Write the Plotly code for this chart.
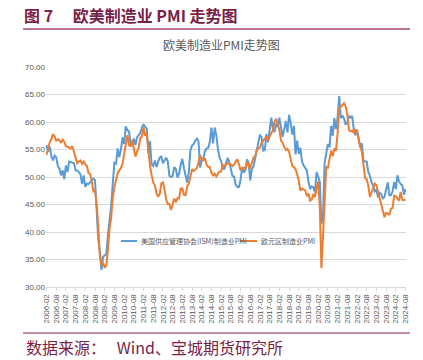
import plotly.graph_objects as go

# Monthly categories 2006-02 .. 2024-08
months = []
for y in range(2006, 2025):
    for m in range(1, 13):
        if (y == 2006 and m < 2) or (y == 2024 and m > 8):
            continue
        months.append(f"{y}-{m:02d}")

tick_labels = [mm for mm in months if mm[-2:] in ("02", "08")]

ism_pmi = [
    # 2006 (Feb-Dec)
    55.8, 54.6, 55.5, 53.8, 53.0, 53.9, 53.6, 52.0, 51.5, 50.3, 51.2,
    # 2007
    49.6, 52.1, 50.9, 52.8, 52.7, 52.7, 52.5, 51.2, 51.2, 50.9, 50.5, 48.7,
    # 2008
    50.3, 48.2, 48.8, 48.7, 49.1, 49.5, 49.7, 49.4, 44.8, 38.7, 36.5, 33.1,
    # 2009
    35.5, 35.7, 36.0, 39.5, 42.0, 44.8, 48.9, 52.6, 52.4, 55.2, 53.6, 54.9,
    # 2010
    57.2, 56.0, 59.2, 58.5, 58.3, 56.0, 55.8, 57.0, 55.8, 57.2, 57.6, 58.0,
    # 2011
    59.0, 59.6, 59.1, 58.8, 54.2, 56.5, 52.3, 52.0, 53.0, 51.8, 52.7, 53.5,
    # 2012
    53.7, 52.5, 53.0, 53.5, 52.8, 50.2, 50.0, 50.2, 51.8, 51.5, 49.9, 50.6,
    # 2013
    52.3, 53.3, 51.6, 50.0, 49.0, 50.9, 54.9, 55.7, 56.0, 56.6, 57.0, 56.5,
    # 2014
    51.7, 53.0, 53.4, 54.7, 55.2, 55.3, 56.4, 59.0, 56.1, 59.0, 57.6, 55.1,
    # 2015
    53.5, 52.9, 51.5, 51.5, 52.8, 53.5, 52.7, 51.1, 50.2, 50.1, 48.6, 48.2,
    # 2016
    48.2, 49.5, 51.8, 50.8, 51.3, 53.2, 52.6, 49.4, 51.5, 51.9, 53.2, 54.7,
    # 2017
    56.0, 57.7, 57.2, 54.8, 54.9, 57.8, 56.3, 58.8, 60.8, 58.7, 58.2, 59.7,
    # 2018
    59.1, 60.8, 59.3, 57.3, 58.7, 60.2, 58.1, 61.3, 59.8, 57.7, 59.3, 54.1,
    # 2019
    56.6, 54.2, 55.3, 52.8, 52.1, 51.7, 51.2, 49.1, 47.8, 48.3, 48.1, 47.2,
    # 2020
    50.9, 50.1, 49.1, 41.5, 43.1, 52.6, 54.2, 56.0, 55.4, 59.3, 57.5, 60.7,
    # 2021
    58.7, 60.8, 64.7, 60.7, 61.2, 60.6, 59.5, 59.9, 61.1, 60.8, 61.1, 58.7,
    # 2022
    57.6, 58.6, 57.1, 55.4, 56.1, 53.0, 52.8, 52.8, 50.9, 50.2, 49.0, 48.4,
    # 2023
    47.4, 47.7, 46.3, 47.1, 46.9, 46.0, 46.4, 47.6, 49.0, 46.7, 46.7, 47.4,
    # 2024 (Jan-Aug)
    49.1, 47.8, 50.3, 49.2, 48.7, 48.5, 46.8, 47.8,
]

ez_pmi = [
    # 2006 (Feb-Dec)
    54.0, 55.5, 56.3, 56.9, 57.8, 57.4, 56.5, 56.9, 56.7, 56.2, 56.8,
    # 2007
    56.4, 55.6, 55.5, 55.4, 55.2, 55.6, 54.7, 53.4, 52.5, 52.8, 53.0, 52.4,
    # 2008
    52.8, 52.3, 52.0, 50.7, 50.6, 49.2, 47.4, 47.6, 45.0, 41.1, 35.6, 33.9,
    # 2009
    34.4, 33.5, 33.9, 36.8, 40.7, 42.6, 46.3, 48.2, 49.3, 50.7, 51.2, 51.6,
    # 2010
    52.4, 54.2, 56.6, 57.6, 55.8, 55.6, 56.7, 55.1, 53.7, 54.6, 55.3, 57.1,
    # 2011
    57.3, 59.0, 57.5, 58.0, 54.6, 52.0, 50.4, 49.0, 48.5, 47.1, 46.4, 46.9,
    # 2012
    48.8, 49.0, 47.7, 45.9, 45.1, 45.1, 44.0, 45.1, 46.1, 45.4, 46.2, 46.1,
    # 2013
    47.9, 47.9, 46.8, 46.7, 48.3, 48.8, 50.3, 51.4, 51.1, 51.3, 51.6, 52.7,
    # 2014
    54.0, 53.2, 53.0, 53.4, 52.2, 51.8, 51.8, 50.7, 50.3, 50.6, 50.1, 50.6,
    # 2015
    51.0, 51.0, 52.2, 52.0, 52.2, 52.5, 52.4, 52.3, 52.0, 52.3, 52.8, 53.2,
    # 2016
    52.3, 51.2, 51.6, 51.7, 51.5, 52.8, 52.0, 51.7, 52.6, 53.5, 53.7, 54.9,
    # 2017
    55.2, 55.4, 56.2, 56.7, 57.0, 57.4, 56.6, 57.4, 58.1, 58.5, 60.1, 60.6,
    # 2018
    59.6, 58.6, 56.6, 56.2, 55.5, 54.9, 55.1, 54.6, 53.2, 52.0, 51.8, 51.4,
    # 2019
    50.5, 49.3, 47.5, 47.9, 47.7, 47.6, 46.5, 47.0, 45.7, 45.9, 46.9, 46.3,
    # 2020
    47.9, 49.2, 44.5, 33.4, 39.4, 47.4, 51.8, 51.7, 53.7, 54.8, 53.8, 55.2,
    # 2021
    54.8, 57.9, 62.5, 62.9, 63.1, 63.4, 62.8, 61.4, 58.6, 58.3, 58.4, 58.0,
    # 2022
    58.7, 58.2, 56.5, 55.5, 54.6, 52.1, 49.8, 49.6, 48.4, 46.4, 47.1, 47.8,
    # 2023
    48.8, 48.5, 47.3, 45.8, 44.8, 43.4, 42.7, 43.5, 43.4, 43.1, 44.2, 44.4,
    # 2024 (Jan-Aug)
    46.6, 46.5, 46.1, 45.7, 47.3, 45.8, 45.8, 45.8,
]

series_names = ["美国供应管理协会(ISM)制造业PMI", "欧元区制造业PMI"]
series_colors = ["#5b9bd5", "#ed7d31"]
y_ticks = [30, 35, 40, 45, 50, 55, 60, 65, 70]

CJK = "Noto Sans CJK SC"
MAROON = "#7a1f47"


def px(x):  # picture x pixel -> paper coords
    return (x - 46) / 360


def py(y):  # picture y pixel -> paper coords
    return (287 - y) / 220


fig = go.Figure()
for name, vals, col in zip(series_names, [ism_pmi, ez_pmi], series_colors):
    fig.add_trace(go.Scatter(x=months, y=vals, mode="lines", name=name,
                             line=dict(color=col, width=2), showlegend=False))

fig.update_layout(
    width=423, height=360,
    margin=dict(l=46, r=17, t=67, b=73, autoexpand=False),
    paper_bgcolor="white", plot_bgcolor="white",
    font=dict(family=CJK, color="#595959"),
    showlegend=False,
    xaxis=dict(type="category", range=[-0.3, len(months) - 0.7],
               tickmode="array", tickvals=tick_labels, ticktext=tick_labels,
               tickangle=-90, tickfont=dict(size=8, color="#595959", family="Liberation Sans"),
               showgrid=False, showline=True, linecolor="#d9d9d9", linewidth=1,
               ticks="outside", ticklen=3, tickcolor="#d9d9d9", automargin=False),
    yaxis=dict(range=[30, 70], tickvals=y_ticks, tickformat=".2f",
               tickfont=dict(size=8, color="#595959", family="Liberation Sans"),
               showgrid=True, gridcolor="#d9d9d9", gridwidth=1, zeroline=False,
               showline=False, ticks="", automargin=False),
)

# Legend drawn inside plot
legend_items = [(121, 137, 139, series_names[0], series_colors[0]),
                (240, 257, 259, series_names[1], series_colors[1])]
for x0, x1, xt, name, col in legend_items:
    fig.add_shape(type="line", xref="paper", yref="paper",
                  x0=px(x0), x1=px(x1), y0=py(241), y1=py(241),
                  line=dict(color=col, width=2))
    fig.add_annotation(text=name, xref="paper", yref="paper", x=px(xt), y=py(241),
                       xanchor="left", yanchor="middle", showarrow=False,
                       font=dict(family=CJK, size=7, color="#595959"))

fig.add_annotation(text="<b>图 7　 欧美制造业 PMI 走势图</b>", xref="paper", yref="paper",
                   x=px(22), y=py(15), xanchor="left", yanchor="middle",
                   showarrow=False, font=dict(family=CJK, size=16, color=MAROON))
fig.add_annotation(text="欧美制造业PMI走势图", xref="paper", yref="paper",
                   x=px(221), y=py(45), xanchor="center", yanchor="middle",
                   showarrow=False, font=dict(family=CJK, size=12, color="#595959"))
fig.add_annotation(text="数据来源：   Wind、宝城期货研究所", xref="paper", yref="paper",
                   x=px(24), y=py(347), xanchor="left", yanchor="middle",
                   showarrow=False, font=dict(family=CJK, size=16, color=MAROON))

fig.add_shape(type="line", xref="paper", yref="paper",
              x0=px(23), x1=px(410), y0=py(29), y1=py(29),
              line=dict(color="#a0466e", width=1.5))
fig.add_shape(type="line", xref="paper", yref="paper",
              x0=px(23), x1=px(410), y0=py(333), y1=py(333),
              line=dict(color="#b06a8c", width=1.5))

fig.write_html("out.html", config={"displayModeBar": False},
               post_script="document.body.style.margin='0';")
